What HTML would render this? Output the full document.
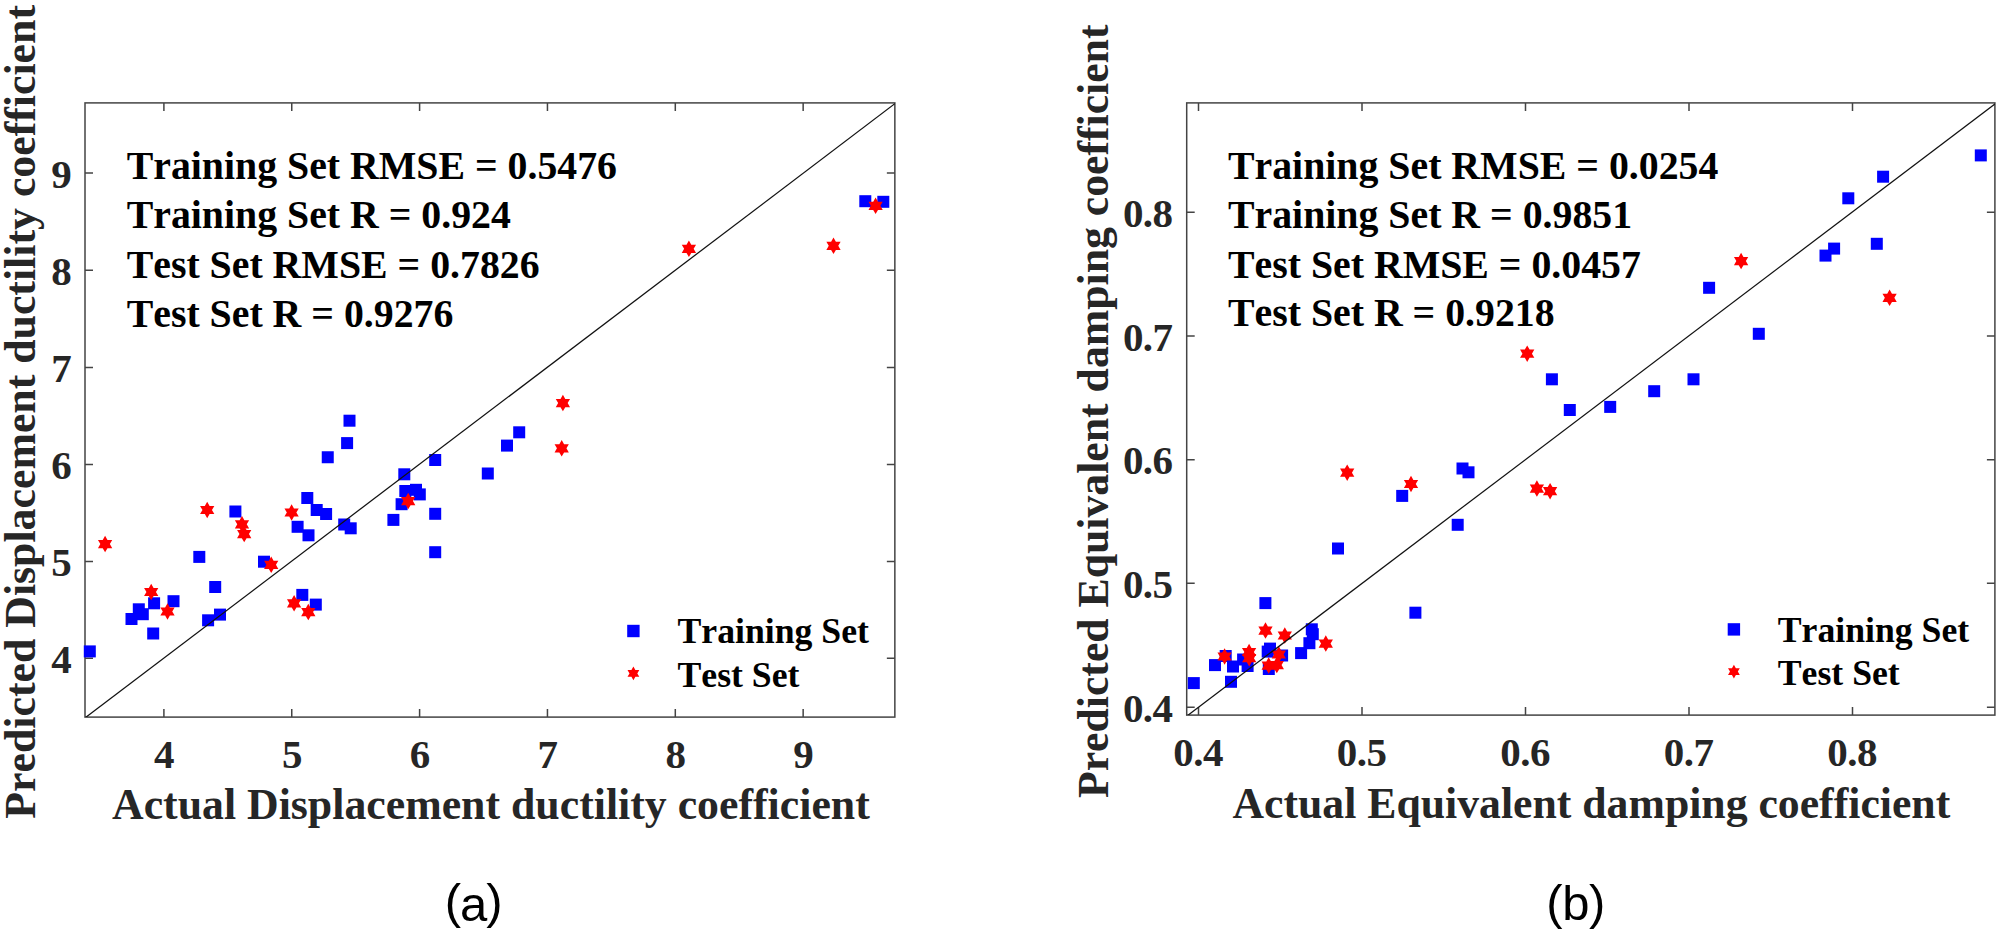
<!DOCTYPE html>
<html lang="en"><head><meta charset="utf-8"><title>Predicted vs actual scatter plots</title>
<style>
html,body{margin:0;padding:0;background:#fff;}
body{width:2000px;height:932px;overflow:hidden;}
svg{display:block;}
text{font-family:"Liberation Serif","Times New Roman",Times,serif;font-weight:bold;font-kerning:none;font-variant-ligatures:none;}
.cap{font-family:"Liberation Sans",Arial,Helvetica,sans-serif;font-weight:normal;fill:#000;}
.tick{font-size:41px;fill:#262626;}
.lab{font-size:43.8px;fill:#262626;}
.labb{font-size:43.72px;fill:#262626;}
.ann{font-size:39.8px;fill:#000;}
.leg{font-size:35.7px;fill:#000;}
</style></head><body>
<svg width="2000" height="932" viewBox="0 0 2000 932">
<rect width="2000" height="932" fill="#fff"/>
<!-- plot a -->
<g fill="none" stroke="#444444" stroke-width="1.50" stroke-linecap="butt">
<rect x="85.00" y="102.90" width="809.85" height="614.20"/>
<path d="M163.90 717.10V709.10M163.90 102.90V110.90M291.75 717.10V709.10M291.75 102.90V110.90M419.60 717.10V709.10M419.60 102.90V110.90M547.45 717.10V709.10M547.45 102.90V110.90M675.30 717.10V709.10M675.30 102.90V110.90M803.15 717.10V709.10M803.15 102.90V110.90M85.00 173.00H93.00M894.85 173.00H886.85M85.00 270.20H93.00M894.85 270.20H886.85M85.00 367.40H93.00M894.85 367.40H886.85M85.00 464.50H93.00M894.85 464.50H886.85M85.00 561.40H93.00M894.85 561.40H886.85M85.00 658.30H93.00M894.85 658.30H886.85"/>
</g>
<g fill="#0000ff"><rect x="83.80" y="645.40" width="12.00" height="12.00"/><rect x="125.50" y="613.00" width="12.00" height="12.00"/><rect x="132.80" y="603.30" width="12.00" height="12.00"/><rect x="136.80" y="608.20" width="12.00" height="12.00"/><rect x="148.10" y="597.30" width="12.00" height="12.00"/><rect x="167.50" y="595.20" width="12.00" height="12.00"/><rect x="147.20" y="627.50" width="12.00" height="12.00"/><rect x="209.20" y="581.00" width="12.00" height="12.00"/><rect x="202.10" y="614.30" width="12.00" height="12.00"/><rect x="214.00" y="608.60" width="12.00" height="12.00"/><rect x="296.30" y="588.90" width="12.00" height="12.00"/><rect x="309.80" y="598.60" width="12.00" height="12.00"/><rect x="193.30" y="550.90" width="12.00" height="12.00"/><rect x="258.00" y="555.70" width="12.00" height="12.00"/><rect x="229.40" y="505.50" width="12.00" height="12.00"/><rect x="301.30" y="492.00" width="12.00" height="12.00"/><rect x="310.70" y="504.00" width="12.00" height="12.00"/><rect x="320.10" y="508.00" width="12.00" height="12.00"/><rect x="291.60" y="520.80" width="12.00" height="12.00"/><rect x="302.50" y="529.30" width="12.00" height="12.00"/><rect x="338.20" y="518.50" width="12.00" height="12.00"/><rect x="344.70" y="522.30" width="12.00" height="12.00"/><rect x="321.75" y="451.25" width="12.00" height="12.00"/><rect x="341.10" y="437.10" width="12.00" height="12.00"/><rect x="343.50" y="414.70" width="12.00" height="12.00"/><rect x="387.40" y="513.90" width="12.00" height="12.00"/><rect x="395.60" y="498.20" width="12.00" height="12.00"/><rect x="398.30" y="468.30" width="12.00" height="12.00"/><rect x="399.30" y="485.00" width="12.00" height="12.00"/><rect x="410.00" y="483.80" width="12.00" height="12.00"/><rect x="413.80" y="488.40" width="12.00" height="12.00"/><rect x="429.20" y="454.00" width="12.00" height="12.00"/><rect x="429.20" y="507.80" width="12.00" height="12.00"/><rect x="429.20" y="546.20" width="12.00" height="12.00"/><rect x="481.80" y="467.50" width="12.00" height="12.00"/><rect x="501.00" y="439.60" width="12.00" height="12.00"/><rect x="513.20" y="426.30" width="12.00" height="12.00"/><rect x="859.30" y="195.20" width="12.00" height="12.00"/><rect x="877.30" y="195.80" width="12.00" height="12.00"/><rect x="627.20" y="624.80" width="12.40" height="12.40"/></g>
<g fill="#ff0000"><polygon points="105.10,535.85 107.48,539.98 112.24,539.98 109.86,544.10 112.24,548.23 107.48,548.22 105.10,552.35 102.72,548.22 97.96,548.23 100.34,544.10 97.96,539.98 102.72,539.98"/><polygon points="151.20,583.75 153.58,587.88 158.34,587.88 155.96,592.00 158.34,596.12 153.58,596.12 151.20,600.25 148.82,596.12 144.06,596.12 146.44,592.00 144.06,587.88 148.82,587.88"/><polygon points="167.50,603.25 169.88,607.38 174.64,607.38 172.26,611.50 174.64,615.62 169.88,615.62 167.50,619.75 165.12,615.62 160.36,615.62 162.74,611.50 160.36,607.38 165.12,607.38"/><polygon points="207.20,501.75 209.58,505.88 214.34,505.88 211.96,510.00 214.34,514.12 209.58,514.12 207.20,518.25 204.82,514.12 200.06,514.12 202.44,510.00 200.06,505.88 204.82,505.88"/><polygon points="242.00,516.05 244.38,520.18 249.14,520.17 246.76,524.30 249.14,528.42 244.38,528.42 242.00,532.55 239.62,528.42 234.86,528.42 237.24,524.30 234.86,520.17 239.62,520.18"/><polygon points="244.20,525.85 246.58,529.98 251.34,529.98 248.96,534.10 251.34,538.23 246.58,538.22 244.20,542.35 241.82,538.22 237.06,538.23 239.44,534.10 237.06,529.98 241.82,529.98"/><polygon points="271.20,556.55 273.58,560.68 278.34,560.67 275.96,564.80 278.34,568.92 273.58,568.92 271.20,573.05 268.82,568.92 264.06,568.92 266.44,564.80 264.06,560.67 268.82,560.68"/><polygon points="291.60,504.25 293.98,508.38 298.74,508.38 296.36,512.50 298.74,516.62 293.98,516.62 291.60,520.75 289.22,516.62 284.46,516.62 286.84,512.50 284.46,508.38 289.22,508.38"/><polygon points="294.10,595.05 296.48,599.18 301.24,599.17 298.86,603.30 301.24,607.42 296.48,607.42 294.10,611.55 291.72,607.42 286.96,607.42 289.34,603.30 286.96,599.17 291.72,599.18"/><polygon points="308.30,603.85 310.68,607.98 315.44,607.98 313.06,612.10 315.44,616.23 310.68,616.22 308.30,620.35 305.92,616.22 301.16,616.23 303.54,612.10 301.16,607.98 305.92,607.98"/><polygon points="408.20,492.85 410.58,496.98 415.34,496.98 412.96,501.10 415.34,505.23 410.58,505.22 408.20,509.35 405.82,505.22 401.06,505.23 403.44,501.10 401.06,496.98 405.82,496.98"/><polygon points="562.90,394.85 565.28,398.98 570.04,398.98 567.66,403.10 570.04,407.23 565.28,407.22 562.90,411.35 560.52,407.22 555.76,407.23 558.14,403.10 555.76,398.98 560.52,398.98"/><polygon points="561.70,440.05 564.08,444.18 568.84,444.18 566.46,448.30 568.84,452.43 564.08,452.42 561.70,456.55 559.32,452.42 554.56,452.43 556.94,448.30 554.56,444.18 559.32,444.18"/><polygon points="688.90,240.55 691.28,244.68 696.04,244.68 693.66,248.80 696.04,252.93 691.28,252.92 688.90,257.05 686.52,252.92 681.76,252.93 684.14,248.80 681.76,244.68 686.52,244.68"/><polygon points="833.50,237.55 835.88,241.68 840.64,241.68 838.26,245.80 840.64,249.93 835.88,249.92 833.50,254.05 831.12,249.92 826.36,249.93 828.74,245.80 826.36,241.68 831.12,241.68"/><polygon points="875.60,197.55 877.98,201.68 882.74,201.68 880.36,205.80 882.74,209.93 877.98,209.92 875.60,214.05 873.22,209.92 868.46,209.93 870.84,205.80 868.46,201.68 873.22,201.68"/><polygon points="633.40,666.60 635.36,670.00 639.29,670.00 637.32,673.40 639.29,676.80 635.36,676.80 633.40,680.20 631.44,676.80 627.51,676.80 629.48,673.40 627.51,670.00 631.44,670.00"/></g>
<clipPath id="ca"><rect x="85.00" y="102.90" width="809.85" height="614.20"/></clipPath>
<line clip-path="url(#ca)" x1="85.00" y1="717.90" x2="894.85" y2="103.70" stroke="#111" stroke-width="1.25"/>
<text class="tick" x="164.30" y="768.0" text-anchor="middle">4</text>
<text class="tick" x="292.15" y="768.0" text-anchor="middle">5</text>
<text class="tick" x="420.00" y="768.0" text-anchor="middle">6</text>
<text class="tick" x="547.85" y="768.0" text-anchor="middle">7</text>
<text class="tick" x="675.70" y="768.0" text-anchor="middle">8</text>
<text class="tick" x="803.55" y="768.0" text-anchor="middle">9</text>
<text class="tick" x="71.7" y="187.90" text-anchor="end">9</text>
<text class="tick" x="71.7" y="285.10" text-anchor="end">8</text>
<text class="tick" x="71.7" y="382.30" text-anchor="end">7</text>
<text class="tick" x="71.7" y="479.40" text-anchor="end">6</text>
<text class="tick" x="71.7" y="576.30" text-anchor="end">5</text>
<text class="tick" x="71.7" y="673.20" text-anchor="end">4</text>
<text class="lab" x="112" y="819.3">Actual Displacement ductility coefficient</text>
<text class="lab" transform="translate(35.4,5) rotate(-90)" text-anchor="end">Predicted Displacement ductility coefficient</text>
<text class="ann" x="126.7" y="178.50">Training Set RMSE = 0.5476</text>
<text class="ann" x="126.7" y="228.30">Training Set R = 0.924</text>
<text class="ann" x="126.7" y="277.90">Test Set RMSE = 0.7826</text>
<text class="ann" x="126.7" y="327.30">Test Set R = 0.9276</text>
<text class="leg" x="677.5" y="643.1">Training Set</text>
<text class="leg" x="677.5" y="686.6">Test Set</text>
<text class="cap" x="473.2" y="918.0" font-size="49" text-anchor="middle" letter-spacing="-1">(<tspan dy="3.0">a</tspan><tspan dy="-3.0">)</tspan></text>
<!-- plot b -->
<g fill="none" stroke="#444444" stroke-width="1.50" stroke-linecap="butt">
<rect x="1186.70" y="102.90" width="808.20" height="612.20"/>
<path d="M1198.50 715.10V707.10M1198.50 102.90V110.90M1362.00 715.10V707.10M1362.00 102.90V110.90M1525.50 715.10V707.10M1525.50 102.90V110.90M1689.00 715.10V707.10M1689.00 102.90V110.90M1852.50 715.10V707.10M1852.50 102.90V110.90M1186.70 212.30H1194.70M1994.90 212.30H1986.90M1186.70 336.05H1194.70M1994.90 336.05H1986.90M1186.70 459.80H1194.70M1994.90 459.80H1986.90M1186.70 583.30H1194.70M1994.90 583.30H1986.90M1186.70 707.30H1194.70M1994.90 707.30H1986.90"/>
</g>
<g fill="#0000ff"><rect x="1187.80" y="677.10" width="12.00" height="12.00"/><rect x="1225.00" y="675.80" width="12.00" height="12.00"/><rect x="1209.00" y="659.10" width="12.00" height="12.00"/><rect x="1219.70" y="650.00" width="12.00" height="12.00"/><rect x="1227.00" y="660.50" width="12.00" height="12.00"/><rect x="1237.10" y="653.50" width="12.00" height="12.00"/><rect x="1241.60" y="660.00" width="12.00" height="12.00"/><rect x="1264.00" y="642.60" width="12.00" height="12.00"/><rect x="1261.70" y="645.60" width="12.00" height="12.00"/><rect x="1262.80" y="663.00" width="12.00" height="12.00"/><rect x="1276.10" y="649.50" width="12.00" height="12.00"/><rect x="1295.10" y="647.10" width="12.00" height="12.00"/><rect x="1303.40" y="637.20" width="12.00" height="12.00"/><rect x="1305.80" y="623.30" width="12.00" height="12.00"/><rect x="1306.80" y="628.20" width="12.00" height="12.00"/><rect x="1259.40" y="597.10" width="12.00" height="12.00"/><rect x="1332.00" y="542.50" width="12.00" height="12.00"/><rect x="1409.40" y="606.70" width="12.00" height="12.00"/><rect x="1396.20" y="489.90" width="12.00" height="12.00"/><rect x="1456.50" y="462.50" width="12.00" height="12.00"/><rect x="1462.50" y="466.30" width="12.00" height="12.00"/><rect x="1451.70" y="518.80" width="12.00" height="12.00"/><rect x="1545.90" y="373.30" width="12.00" height="12.00"/><rect x="1563.80" y="404.00" width="12.00" height="12.00"/><rect x="1604.20" y="400.90" width="12.00" height="12.00"/><rect x="1648.20" y="385.20" width="12.00" height="12.00"/><rect x="1687.50" y="373.30" width="12.00" height="12.00"/><rect x="1703.10" y="281.80" width="12.00" height="12.00"/><rect x="1752.80" y="327.80" width="12.00" height="12.00"/><rect x="1819.50" y="249.60" width="12.00" height="12.00"/><rect x="1828.10" y="242.60" width="12.00" height="12.00"/><rect x="1870.80" y="237.80" width="12.00" height="12.00"/><rect x="1842.30" y="192.30" width="12.00" height="12.00"/><rect x="1877.10" y="170.70" width="12.00" height="12.00"/><rect x="1974.80" y="149.40" width="12.00" height="12.00"/><rect x="1727.70" y="623.20" width="12.40" height="12.40"/></g>
<g fill="#ff0000"><polygon points="1224.60,648.25 1226.98,652.38 1231.74,652.38 1229.36,656.50 1231.74,660.62 1226.98,660.62 1224.60,664.75 1222.22,660.62 1217.46,660.62 1219.84,656.50 1217.46,652.38 1222.22,652.38"/><polygon points="1249.10,643.75 1251.48,647.88 1256.24,647.88 1253.86,652.00 1256.24,656.12 1251.48,656.12 1249.10,660.25 1246.72,656.12 1241.96,656.12 1244.34,652.00 1241.96,647.88 1246.72,647.88"/><polygon points="1249.20,649.95 1251.58,654.08 1256.34,654.08 1253.96,658.20 1256.34,662.33 1251.58,662.32 1249.20,666.45 1246.82,662.32 1242.06,662.33 1244.44,658.20 1242.06,654.08 1246.82,654.08"/><polygon points="1268.70,657.35 1271.08,661.48 1275.84,661.48 1273.46,665.60 1275.84,669.73 1271.08,669.72 1268.70,673.85 1266.32,669.72 1261.56,669.73 1263.94,665.60 1261.56,661.48 1266.32,661.48"/><polygon points="1276.80,656.85 1279.18,660.98 1283.94,660.98 1281.56,665.10 1283.94,669.23 1279.18,669.22 1276.80,673.35 1274.42,669.22 1269.66,669.23 1272.04,665.10 1269.66,660.98 1274.42,660.98"/><polygon points="1278.80,646.25 1281.18,650.38 1285.94,650.38 1283.56,654.50 1285.94,658.62 1281.18,658.62 1278.80,662.75 1276.42,658.62 1271.66,658.62 1274.04,654.50 1271.66,650.38 1276.42,650.38"/><polygon points="1265.50,622.35 1267.88,626.48 1272.64,626.48 1270.26,630.60 1272.64,634.73 1267.88,634.72 1265.50,638.85 1263.12,634.72 1258.36,634.73 1260.74,630.60 1258.36,626.48 1263.12,626.48"/><polygon points="1284.80,627.25 1287.18,631.38 1291.94,631.38 1289.56,635.50 1291.94,639.62 1287.18,639.62 1284.80,643.75 1282.42,639.62 1277.66,639.62 1280.04,635.50 1277.66,631.38 1282.42,631.38"/><polygon points="1325.80,635.35 1328.18,639.48 1332.94,639.48 1330.56,643.60 1332.94,647.73 1328.18,647.72 1325.80,651.85 1323.42,647.72 1318.66,647.73 1321.04,643.60 1318.66,639.48 1323.42,639.48"/><polygon points="1347.20,464.45 1349.58,468.58 1354.34,468.57 1351.96,472.70 1354.34,476.82 1349.58,476.82 1347.20,480.95 1344.82,476.82 1340.06,476.82 1342.44,472.70 1340.06,468.57 1344.82,468.58"/><polygon points="1411.00,475.75 1413.38,479.88 1418.14,479.88 1415.76,484.00 1418.14,488.12 1413.38,488.12 1411.00,492.25 1408.62,488.12 1403.86,488.12 1406.24,484.00 1403.86,479.88 1408.62,479.88"/><polygon points="1536.90,480.35 1539.28,484.48 1544.04,484.48 1541.66,488.60 1544.04,492.73 1539.28,492.72 1536.90,496.85 1534.52,492.72 1529.76,492.73 1532.14,488.60 1529.76,484.48 1534.52,484.48"/><polygon points="1550.10,482.95 1552.48,487.08 1557.24,487.07 1554.86,491.20 1557.24,495.32 1552.48,495.32 1550.10,499.45 1547.72,495.32 1542.96,495.32 1545.34,491.20 1542.96,487.07 1547.72,487.08"/><polygon points="1527.20,345.45 1529.58,349.58 1534.34,349.57 1531.96,353.70 1534.34,357.82 1529.58,357.82 1527.20,361.95 1524.82,357.82 1520.06,357.82 1522.44,353.70 1520.06,349.57 1524.82,349.58"/><polygon points="1741.10,252.85 1743.48,256.98 1748.24,256.98 1745.86,261.10 1748.24,265.23 1743.48,265.22 1741.10,269.35 1738.72,265.22 1733.96,265.23 1736.34,261.10 1733.96,256.98 1738.72,256.98"/><polygon points="1889.60,289.55 1891.98,293.68 1896.74,293.68 1894.36,297.80 1896.74,301.93 1891.98,301.92 1889.60,306.05 1887.22,301.92 1882.46,301.93 1884.84,297.80 1882.46,293.68 1887.22,293.68"/><polygon points="1733.90,664.80 1735.86,668.20 1739.79,668.20 1737.82,671.60 1739.79,675.00 1735.86,675.00 1733.90,678.40 1731.94,675.00 1728.01,675.00 1729.98,671.60 1728.01,668.20 1731.94,668.20"/></g>
<clipPath id="cb"><rect x="1186.70" y="102.90" width="808.20" height="612.20"/></clipPath>
<line clip-path="url(#cb)" x1="1186.70" y1="716.20" x2="1994.90" y2="104.00" stroke="#111" stroke-width="1.25"/>
<text class="tick" x="1198.10" y="765.9" text-anchor="middle" letter-spacing="-0.6">0.4</text>
<text class="tick" x="1361.60" y="765.9" text-anchor="middle" letter-spacing="-0.6">0.5</text>
<text class="tick" x="1525.10" y="765.9" text-anchor="middle" letter-spacing="-0.6">0.6</text>
<text class="tick" x="1688.60" y="765.9" text-anchor="middle" letter-spacing="-0.6">0.7</text>
<text class="tick" x="1852.10" y="765.9" text-anchor="middle" letter-spacing="-0.6">0.8</text>
<text class="tick" x="1172.4" y="226.90" text-anchor="end" letter-spacing="-0.6">0.8</text>
<text class="tick" x="1172.4" y="350.65" text-anchor="end" letter-spacing="-0.6">0.7</text>
<text class="tick" x="1172.4" y="474.40" text-anchor="end" letter-spacing="-0.6">0.6</text>
<text class="tick" x="1172.4" y="597.90" text-anchor="end" letter-spacing="-0.6">0.5</text>
<text class="tick" x="1172.4" y="721.90" text-anchor="end" letter-spacing="-0.6">0.4</text>
<text class="labb" x="1232.5" y="817.8">Actual Equivalent damping coefficient</text>
<text class="labb" transform="translate(1107.7,24.5) rotate(-90)" text-anchor="end">Predicted Equivalent damping coefficient</text>
<text class="ann" x="1228" y="178.50">Training Set RMSE = 0.0254</text>
<text class="ann" x="1228" y="228.30">Training Set R = 0.9851</text>
<text class="ann" x="1228" y="277.70">Test Set RMSE = 0.0457</text>
<text class="ann" x="1228" y="326.30">Test Set R = 0.9218</text>
<text class="leg" x="1777.8" y="641.5">Training Set</text>
<text class="leg" x="1777.8" y="685.0">Test Set</text>
<text class="cap" x="1575.6" y="918.5" font-size="49" text-anchor="middle" letter-spacing="-0.4">(<tspan dy="1.5">b</tspan><tspan dy="-1.5">)</tspan></text>
</svg></body></html>
